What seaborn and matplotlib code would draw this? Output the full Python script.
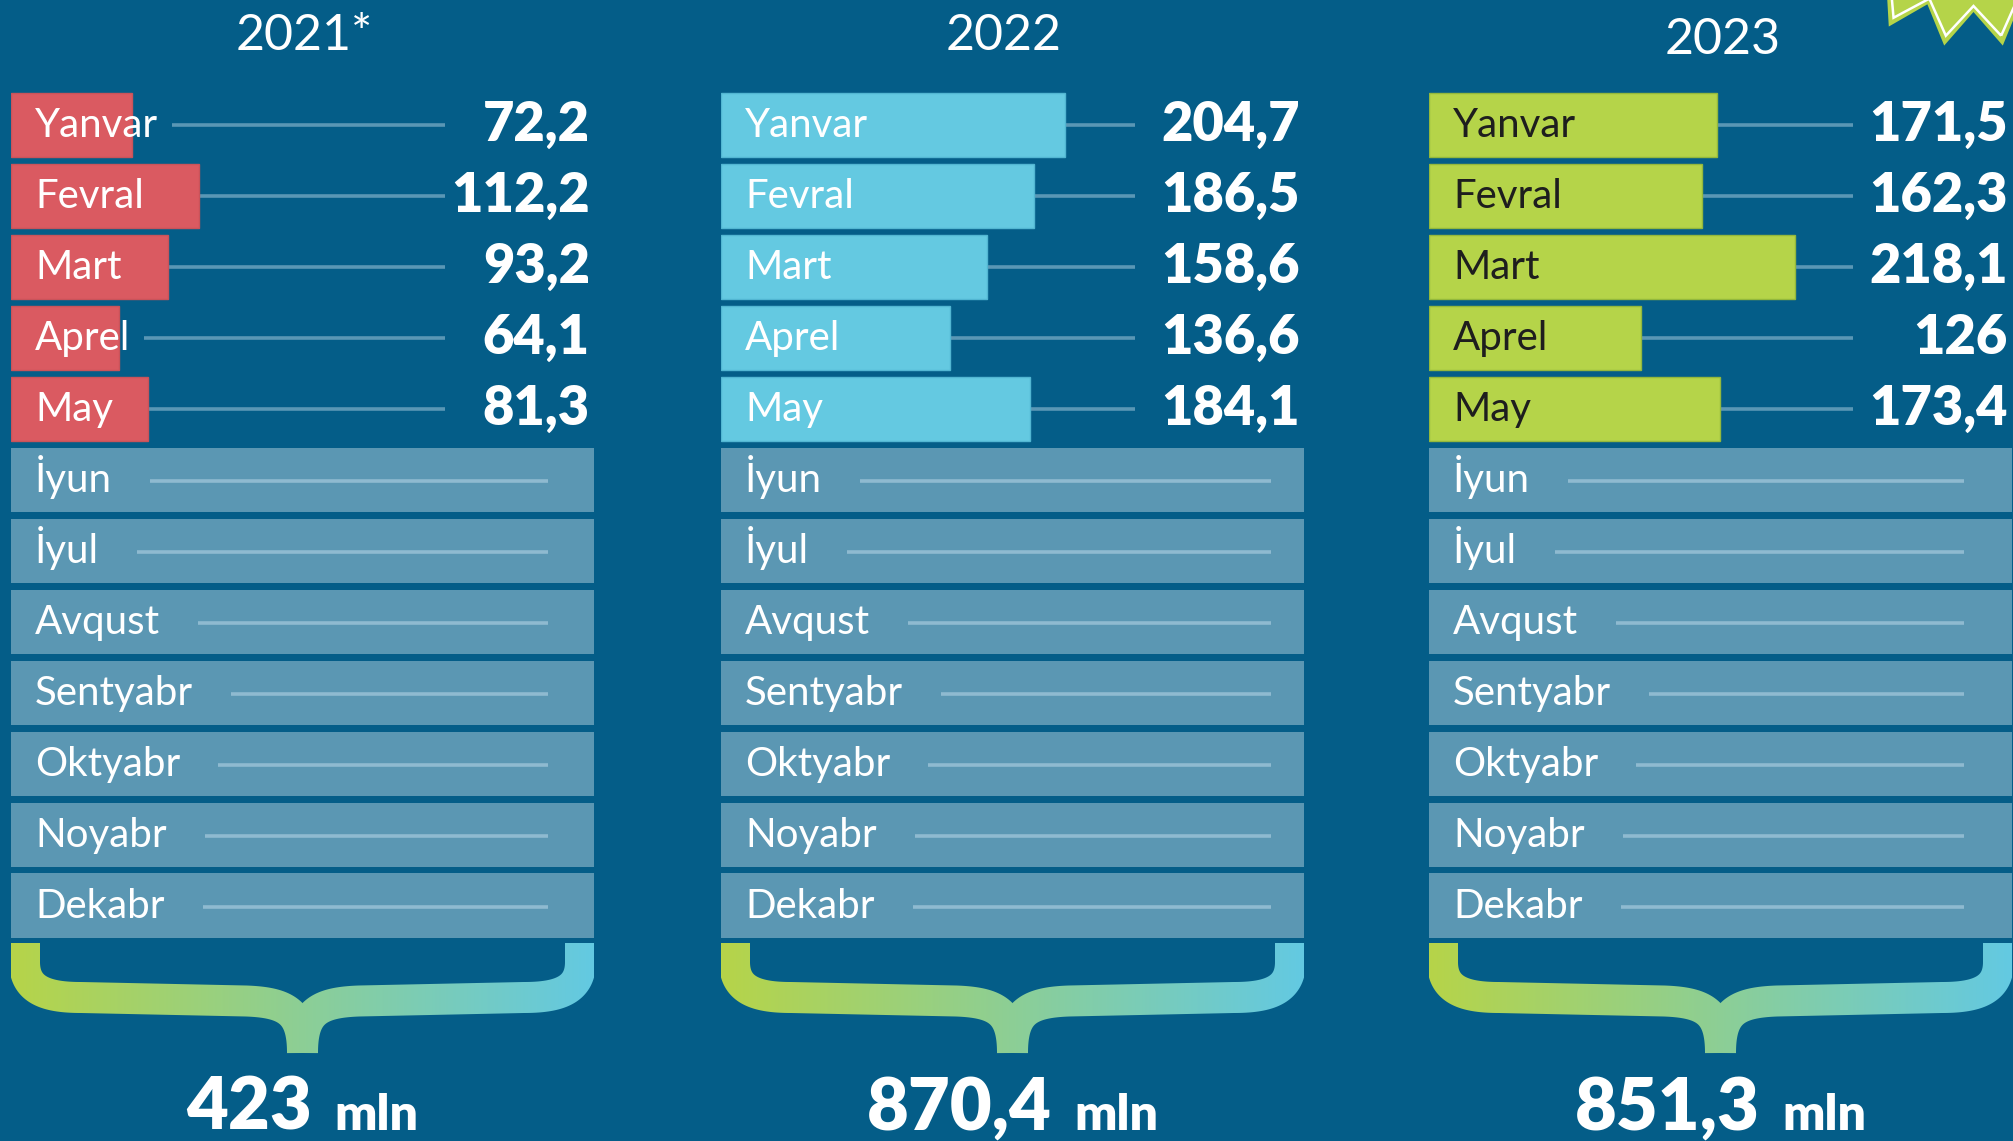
import numpy as np
import pandas as pd
import matplotlib
matplotlib.use("Agg")
import matplotlib.pyplot as plt
import seaborn as sns
from matplotlib.patches import Polygon
from matplotlib.colors import LinearSegmentedColormap

# data
months = ["Yanvar", "Fevral", "Mart", "Aprel", "May", "İyun", "İyul",
          "Avqust", "Sentyabr", "Oktyabr", "Noyabr", "Dekabr"]
years = ["2021*", "2022", "2023"]
sales_2021 = [72.2, 112.2, 93.2, 64.1, 81.3]
sales_2022 = [204.7, 186.5, 158.6, 136.6, 184.1]
sales_2023 = [171.5, 162.3, 218.1, 126.0, 173.4]
totals = [423, 870.4, 851.3]
total_unit = "mln"

# style
BG = "#045d88"
EMPTY = "#5b97b3"
LINE_DARK = "#5a97b5"
LINE_LIGHT = "#8fbad0"
LIME = "#b5d449"
bar_colors = ["#da5a61", "#64c9e1", LIME]
bar_edges = ["#c9535a", "#52b6d2", "#93b83c"]
label_colors = ["white", "white", "#1e1e1e"]

W, H = 2013, 1141
panel_x = [11, 721, 1429]
panel_w = 583
px_per_unit = 1.68
xmax = panel_w / px_per_unit
row_top, row_bot = 89.7, 941.2
conn_end = [0.745, 0.71, 0.727]
empty_end = [0.921, 0.943, 0.918]
title_x = [304, 1004, 1723]
title_y = [50, 50, 54]


def fmt(v):
    return ("%g" % v).replace(".", ",")


def bezier(p0, p1, p2, p3, n=60):
    t = np.linspace(0, 1, n)[:, None]
    p0, p1, p2, p3 = map(np.array, (p0, p1, p2, p3))
    return (1 - t) ** 3 * p0 + 3 * (1 - t) ** 2 * t * p1 + 3 * (1 - t) * t ** 2 * p2 + t ** 3 * p3


def brace_half(x0, w, mirror):
    c = w / 2
    segs = [
        np.linspace([13.5, 943], [13.5, 962], 10),
        bezier([13.5, 962], [13.5, 990], [35, 997.5], [70, 997.5]),
        np.linspace([70, 997.5], [235, 1001], 40),
        bezier([235, 1001], [277, 1002.5], [c, 1013], [c, 1053]),
    ]
    pts = np.vstack([segs[0]] + [s[1:] for s in segs[1:]])
    d = np.gradient(pts, axis=0)
    d /= np.linalg.norm(d, axis=1)[:, None]
    nrm = np.column_stack([-d[:, 1], d[:, 0]])
    hw = 15.5
    poly = np.vstack([pts + hw * nrm, (pts - hw * nrm)[::-1]])
    if mirror:
        poly[:, 0] = w - poly[:, 0]
    poly[:, 0] += x0
    return poly


def star(cx, cy, R, r, npts, start):
    ang = np.deg2rad(start + np.arange(2 * npts) * 180 / npts)
    rad = np.where(np.arange(2 * npts) % 2 == 0, R, r)
    return np.column_stack([cx + rad * np.cos(ang), cy + rad * np.sin(ang)])


plt.rcParams["font.family"] = ["Lato", "DejaVu Sans"]

fig = plt.figure(figsize=(W / 100, H / 100), dpi=100, facecolor=BG)
canvas = fig.add_axes([0, 0, 1, 1])
canvas.set_facecolor(BG)
canvas.axis("off")

# braces with gradient
cmap = LinearSegmentedColormap.from_list("brace", ["#b6d449", "#63c9e2"])
grad = np.linspace(0, 1, 256).reshape(1, -1)
for x0 in panel_x:
    for mirror in (False, True):
        patch = Polygon(brace_half(x0, panel_w, mirror), closed=True,
                        facecolor="none", edgecolor="none")
        canvas.add_patch(patch)
        im = canvas.imshow(grad, cmap=cmap, extent=[x0, x0 + panel_w, 1060, 935],
                           aspect="auto", zorder=1)
        im.set_clip_path(patch)

# star badge in the corner
canvas.add_patch(Polygon(star(1973.5, -130, 178, 142, 19, 90 - 180 / 19), closed=True,
                         facecolor=LIME, edgecolor="none", zorder=2))
canvas.add_patch(Polygon(star(1973.5, -130, 168, 136, 19, 90 - 180 / 19), closed=True,
                         facecolor="none", edgecolor="white", lw=1.8, zorder=3))
canvas.set_xlim(0, W)
canvas.set_ylim(H, 0)

# year titles
for i, y in enumerate(years):
    canvas.text(title_x[i], title_y[i], y, ha="center", va="baseline",
                fontsize=36, fontweight="normal", color="white")

series = [sales_2021, sales_2022, sales_2023]
panels = []
for i, vals in enumerate(series):
    ax = fig.add_axes([panel_x[i] / W, 1 - row_bot / H, panel_w / W, (row_bot - row_top) / H])
    ax.patch.set_alpha(0)
    n = len(vals)
    df = pd.DataFrame({"month": months,
                       "value": vals + [np.nan] * (len(months) - n),
                       "empty": [np.nan] * n + [xmax] * (len(months) - n)})
    sns.barplot(data=df.dropna(subset=["empty"]), x="empty", y="month", order=months,
                orient="h", color=EMPTY, saturation=1, width=0.909, errorbar=None,
                linewidth=0, ax=ax)
    sns.barplot(data=df.dropna(subset=["value"]), x="value", y="month", order=months,
                orient="h", color=bar_colors[i], saturation=1, width=0.909, errorbar=None,
                edgecolor=bar_edges[i], linewidth=1, ax=ax)
    ax.set_xlim(0, xmax)
    ax.set_ylim(len(months) - 0.5, -0.5)
    ax.axis("off")

    labels = []
    for r, m in enumerate(months):
        col = label_colors[i] if r < n else "white"
        labels.append(ax.text(24 / px_per_unit, r + 0.17, m, color=col, fontsize=29,
                              va="baseline", ha="left", zorder=5))
    for r, v in enumerate(vals):
        ax.text(xmax * 0.993, r + 0.22, fmt(v), ha="right", va="baseline",
                fontsize=39, fontweight="heavy", color="white", zorder=5)
    panels.append((ax, labels, n))

# totals
tot_texts = []
for i, t in enumerate(totals):
    a = canvas.text(0, 1130, fmt(t), ha="left", va="baseline", fontsize=52,
                    fontweight="heavy", color="white")
    b = canvas.text(0, 1130, total_unit, ha="left", va="baseline", fontsize=36,
                    fontweight="heavy", color="white")
    tot_texts.append((a, b, panel_x[i] + panel_w / 2))

fig.canvas.draw()
rend = fig.canvas.get_renderer()

for a, b, cx in tot_texts:
    wa = a.get_window_extent(rend).width
    wb = b.get_window_extent(rend).width
    gap = 22
    left = cx - (wa + gap + wb) / 2
    a.set_x(left)
    b.set_x(left + wa + gap)

# connector lines after the month names
for i, (ax, labels, n) in enumerate(panels):
    inv = ax.transData.inverted()
    for r, t in enumerate(labels):
        x_end = inv.transform((t.get_window_extent(rend).x1, 0))[0]
        if r < n:
            ax.plot([x_end + 14 / px_per_unit, conn_end[i] * xmax], [r, r],
                    color=LINE_DARK, lw=2.6, solid_capstyle="butt", zorder=0.5)
        else:
            ax.plot([x_end + 38 / px_per_unit, empty_end[i] * xmax], [r + 0.02, r + 0.02],
                    color=LINE_LIGHT, lw=2.6, solid_capstyle="butt", zorder=4)

fig.savefig("out.png", dpi=100, facecolor=BG)
